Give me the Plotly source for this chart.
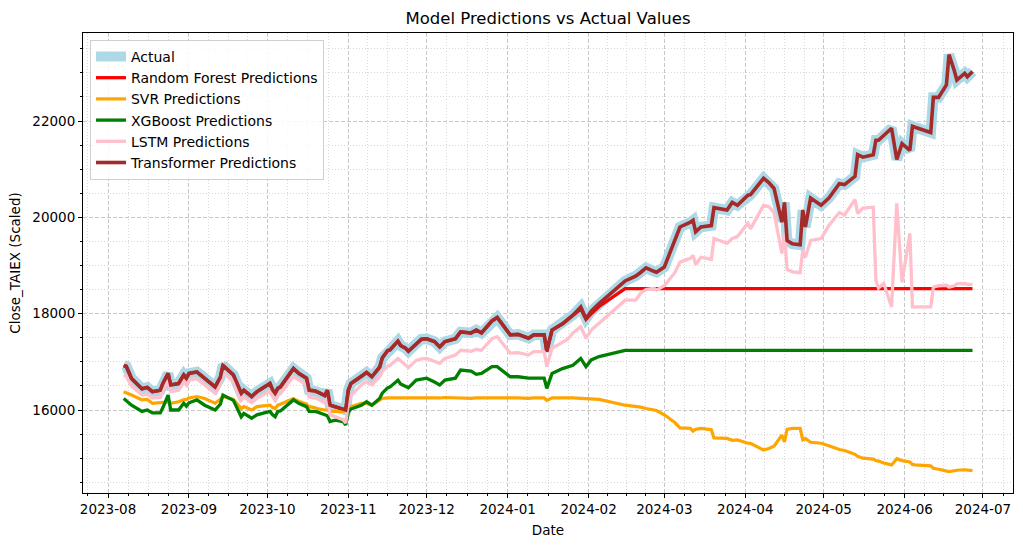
import plotly.graph_objects as go
import pandas as pd

# ---------------- data ----------------
dates = (
    ["2023-08-07", "2023-08-08", "2023-08-10", "2023-08-14", "2023-08-16", "2023-08-18", "2023-08-21",
     "2023-08-22", "2023-08-24", "2023-08-25", "2023-08-28", "2023-08-30", "2023-08-31"]
    + ["2023-09-01", "2023-09-04", "2023-09-07", "2023-09-11", "2023-09-13", "2023-09-14", "2023-09-18",
       "2023-09-20", "2023-09-21", "2023-09-22", "2023-09-25", "2023-09-27"]
    + ["2023-10-02", "2023-10-03", "2023-10-04", "2023-10-05", "2023-10-06", "2023-10-11", "2023-10-13",
       "2023-10-16", "2023-10-17", "2023-10-19", "2023-10-20", "2023-10-23", "2023-10-24", "2023-10-25",
       "2023-10-27", "2023-10-30", "2023-10-31"]
    + ["2023-11-01", "2023-11-02", "2023-11-06", "2023-11-08", "2023-11-10", "2023-11-13", "2023-11-14",
       "2023-11-16", "2023-11-17", "2023-11-20", "2023-11-21", "2023-11-23", "2023-11-24", "2023-11-27",
       "2023-11-29"]
    + ["2023-12-01", "2023-12-04", "2023-12-06", "2023-12-08", "2023-12-12", "2023-12-14", "2023-12-18",
       "2023-12-20", "2023-12-22", "2023-12-26", "2023-12-28"]
    + ["2024-01-02", "2024-01-05", "2024-01-09", "2024-01-11", "2024-01-15", "2024-01-16", "2024-01-18",
       "2024-01-22", "2024-01-24", "2024-01-26", "2024-01-29", "2024-01-31"]
    + ["2024-02-02", "2024-02-05", "2024-02-15", "2024-02-19", "2024-02-21", "2024-02-23", "2024-02-26",
       "2024-02-27"]
    + ["2024-03-01", "2024-03-05", "2024-03-07", "2024-03-11", "2024-03-12", "2024-03-13", "2024-03-15",
       "2024-03-19", "2024-03-20", "2024-03-25", "2024-03-27", "2024-03-29"]
    + ["2024-04-02", "2024-04-03", "2024-04-08", "2024-04-10", "2024-04-12", "2024-04-15", "2024-04-16",
       "2024-04-17", "2024-04-19", "2024-04-22", "2024-04-23", "2024-04-24", "2024-04-26", "2024-04-30"]
    + ["2024-05-03", "2024-05-07", "2024-05-09", "2024-05-13", "2024-05-14", "2024-05-16", "2024-05-20",
       "2024-05-21", "2024-05-22", "2024-05-24", "2024-05-27", "2024-05-29", "2024-05-31"]
    + ["2024-06-03", "2024-06-04", "2024-06-05", "2024-06-11", "2024-06-12", "2024-06-14", "2024-06-17",
       "2024-06-18", "2024-06-20", "2024-06-21", "2024-06-24", "2024-06-25", "2024-06-27"]
)

actual = (
    [16930, 16910, 16660, 16440, 16470, 16380, 16410, 16550, 16760, 16520, 16550, 16730, 16660]
    + [16760, 16790, 16660, 16480, 16680, 16930, 16730, 16500, 16350, 16410, 16280, 16380]
    + [16550, 16420, 16350, 16450, 16480, 16860, 16760, 16660, 16410, 16400, 16380, 16300, 16410, 16100,
       16070, 16030, 16000]
    + [16410, 16550, 16700, 16780, 16690, 16890, 17080, 17230, 17250, 17430, 17340, 17280, 17220, 17380, 17470]
    + [17480, 17420, 17310, 17420, 17480, 17620, 17600, 17660, 17600, 17850, 17920]
    + [17560, 17570, 17490, 17560, 17560, 17210, 17660, 17790, 17880, 17970, 18140, 17900]
    + [18050, 18210, 18680, 18780, 18860, 18950, 18880, 18860]
    + [18970, 19500, 19800, 19900, 19940, 19700, 19800, 19830, 20200, 20150, 20310, 20250]
    + [20460, 20470, 20810, 20720, 20600, 19920, 20310, 19520, 19450, 19430, 20150, 19800, 20400, 20250]
    + [20400, 20700, 20680, 20850, 21300, 21250, 21300, 21600, 21600, 21700, 21850, 21200, 21530]
    + [21390, 21890, 21870, 21760, 22490, 22490, 22750, 23380, 23050, 22850, 22990, 22920, 23030]
)

rf_pred = (
    [16930, 16910, 16660, 16440, 16470, 16380, 16410, 16550, 16760, 16520, 16550, 16730, 16660]
    + [16760, 16790, 16660, 16480, 16680, 16930, 16730, 16500, 16350, 16410, 16280, 16380]
    + [16550, 16420, 16350, 16450, 16480, 16860, 16760, 16660, 16410, 16400, 16380, 16300, 16410, 16100,
       16070, 16030, 16000]
    + [16410, 16550, 16700, 16780, 16690, 16890, 17080, 17230, 17250, 17430, 17340, 17280, 17220, 17380, 17470]
    + [17480, 17420, 17310, 17420, 17480, 17620, 17600, 17660, 17600, 17850, 17920]
    + [17560, 17570, 17490, 17560, 17560, 17210, 17660, 17790, 17880, 17960, 18100, 17880]
    + [18000, 18150, 18520, 18520, 18520, 18520, 18520, 18520]
    + [18520, 18520, 18520, 18520, 18520, 18520, 18520, 18520, 18520, 18520, 18520, 18520]
    + [18520, 18520, 18520, 18520, 18520, 18520, 18520, 18520, 18520, 18520, 18520, 18520, 18520, 18520]
    + [18520, 18520, 18520, 18520, 18520, 18520, 18520, 18520, 18520, 18520, 18520, 18520, 18520]
    + [18520, 18520, 18520, 18520, 18520, 18520, 18520, 18520, 18520, 18520, 18520, 18520, 18520]
)

svr_pred = (
    [16380, 16360, 16310, 16210, 16220, 16140, 16150, 16160, 16170, 16140, 16170, 16210, 16220]
    + [16250, 16280, 16240, 16140, 16220, 16280, 16220, 16100, 16030, 16070, 16000, 16070]
    + [16100, 16050, 16030, 16100, 16120, 16240, 16180, 16120, 16070, 16050, 16030, 16000, 16000, 15970,
       15970, 15970, 15990]
    + [16030, 16070, 16140, 16140, 16100, 16210, 16240, 16250, 16250, 16250, 16250, 16250, 16250, 16250, 16250]
    + [16250, 16240, 16250, 16260, 16250, 16250, 16240, 16250, 16250, 16260, 16250]
    + [16250, 16250, 16240, 16250, 16250, 16200, 16250, 16250, 16260, 16250, 16240, 16230]
    + [16230, 16220, 16100, 16080, 16060, 16030, 16000, 15990]
    + [15900, 15740, 15630, 15620, 15560, 15600, 15620, 15590, 15420, 15410, 15370, 15380]
    + [15310, 15310, 15170, 15200, 15250, 15480, 15340, 15600, 15620, 15620, 15380, 15410, 15330, 15310]
    + [15260, 15180, 15160, 15080, 15040, 15000, 14980, 14950, 14940, 14900, 14860, 14990, 14950]
    + [14920, 14870, 14860, 14840, 14790, 14770, 14740, 14720, 14740, 14750, 14760, 14750, 14740]
)

xgb_pred = (
    [16240, 16200, 16100, 15970, 16000, 15940, 15940, 16050, 16310, 16000, 16000, 16140, 16080]
    + [16150, 16210, 16100, 16000, 16120, 16310, 16200, 15980, 15860, 15930, 15830, 15900]
    + [15970, 15900, 15860, 15970, 15980, 16210, 16140, 16070, 15970, 15970, 15960, 15900, 15880, 15760,
       15790, 15760, 15690]
    + [15950, 16020, 16100, 16170, 16100, 16240, 16350, 16460, 16480, 16620, 16540, 16490, 16460, 16620, 16640]
    + [16660, 16580, 16520, 16620, 16660, 16830, 16810, 16740, 16760, 16900, 16900]
    + [16690, 16690, 16660, 16660, 16660, 16450, 16760, 16860, 16900, 16930, 17070, 16900]
    + [17040, 17110, 17240, 17240, 17240, 17240, 17240, 17240]
    + [17240, 17240, 17240, 17240, 17240, 17240, 17240, 17240, 17240, 17240, 17240, 17240]
    + [17240, 17240, 17240, 17240, 17240, 17240, 17240, 17240, 17240, 17240, 17240, 17240, 17240, 17240]
    + [17240, 17240, 17240, 17240, 17240, 17240, 17240, 17240, 17240, 17240, 17240, 17240, 17240]
    + [17240, 17240, 17240, 17240, 17240, 17240, 17240, 17240, 17240, 17240, 17240, 17240, 17240]
)

lstm_pred = (
    [16730, 16700, 16500, 16310, 16330, 16250, 16260, 16400, 16620, 16380, 16410, 16590, 16520]
    + [16620, 16650, 16520, 16350, 16540, 16780, 16590, 16350, 16200, 16270, 16150, 16240]
    + [16400, 16280, 16200, 16310, 16340, 16700, 16620, 16520, 16270, 16260, 16240, 16150, 16250, 15900,
       15860, 15800, 15730]
    + [16150, 16300, 16520, 16590, 16520, 16690, 16800, 16910, 16930, 17070, 17020, 16930, 16880, 17030, 17060]
    + [17070, 17020, 16970, 17070, 17140, 17240, 17220, 17260, 17240, 17480, 17520]
    + [17180, 17190, 17140, 17210, 17210, 16900, 17280, 17400, 17470, 17600, 17730, 17490]
    + [17660, 17800, 18280, 18280, 18430, 18500, 18530, 18490]
    + [18580, 18850, 19070, 19150, 19210, 19020, 19170, 19130, 19560, 19460, 19560, 19600]
    + [19880, 19760, 20250, 20220, 20100, 19250, 19670, 18920, 18870, 18850, 19320, 19170, 19520, 19560]
    + [19830, 20100, 20050, 20370, 20080, 20190, 20210, 18690, 18530, 18630, 18140, 20290, 18650]
    + [19670, 18140, 18140, 18140, 18550, 18580, 18590, 18550, 18580, 18620, 18630, 18610, 18610]
)

transformer_pred = (
    [16920, 16900, 16650, 16440, 16470, 16380, 16410, 16550, 16760, 16520, 16550, 16730, 16660]
    + [16760, 16790, 16660, 16480, 16680, 16920, 16730, 16500, 16350, 16410, 16280, 16380]
    + [16550, 16420, 16350, 16450, 16480, 16860, 16760, 16660, 16410, 16400, 16380, 16300, 16410, 16100,
       16070, 16030, 16000]
    + [16410, 16550, 16700, 16780, 16690, 16890, 17080, 17230, 17250, 17430, 17340, 17280, 17220, 17380, 17470]
    + [17480, 17420, 17310, 17420, 17480, 17620, 17600, 17660, 17600, 17850, 17920]
    + [17560, 17570, 17490, 17560, 17560, 17230, 17660, 17790, 17880, 17970, 18140, 17900]
    + [18050, 18210, 18680, 18780, 18860, 18950, 18880, 18860]
    + [18970, 19500, 19800, 19900, 19940, 19700, 19800, 19830, 20200, 20150, 20310, 20250]
    + [20460, 20470, 20810, 20720, 20600, 19900, 20310, 19520, 19450, 19430, 20150, 19800, 20400, 20250]
    + [20400, 20700, 20680, 20850, 21300, 21250, 21300, 21600, 21600, 21700, 21850, 21200, 21530]
    + [21390, 21890, 21870, 21760, 22490, 22490, 22750, 23380, 23050, 22850, 22990, 22920, 23030]
)

series_names = ["Actual", "Random Forest Predictions", "SVR Predictions", "XGBoost Predictions",
                "LSTM Predictions", "Transformer Predictions"]
y_tick_values = [16000, 18000, 20000, 22000]
x_tick_months = ["2023-08-01", "2023-09-01", "2023-10-01", "2023-11-01", "2023-12-01", "2024-01-01",
                 "2024-02-01", "2024-03-01", "2024-04-01", "2024-05-01", "2024-06-01", "2024-07-01"]

# ---------------- figure ----------------
series_values = [actual, rf_pred, svr_pred, xgb_pred, lstm_pred, transformer_pred]
colors = ["#ADD8E6", "#FF0000", "#FFA500", "#008000", "#FFC0CB", "#A52A2A"]
widths = [10.5, 3.3, 3.2, 3.3, 3.3, 3.6]

fig = go.Figure()
for name, vals, col, w in zip(series_names, series_values, colors, widths):
    fig.add_trace(go.Scatter(x=dates, y=vals, mode="lines", name=name,
                             line=dict(color=col, width=w)))

# minor x grid: each month split into quarters (matplotlib AutoMinorLocator(4))
minor_x = []
for m in pd.date_range("2023-07-01", "2024-07-01", freq="MS"):
    nd = m.days_in_month
    for k in (1, 2, 3):
        minor_x.append((m + pd.Timedelta(days=nd * k / 4)).strftime("%Y-%m-%d %H:%M"))

FONT = "DejaVu Sans"
grid_major = "#c8c8c8"
grid_minor = "#d8d8d8"

fig.update_layout(
    width=1023, height=547,
    margin=dict(l=83, r=10, t=33, b=54),
    paper_bgcolor="white", plot_bgcolor="white",
    font=dict(family=FONT, size=13.5, color="black"),
    title=dict(text="Model Predictions vs Actual Values", x=0.5357, xanchor="center",
               y=1 - 18 / 547, yanchor="middle", font=dict(size=16.5, family=FONT)),
    showlegend=True,
    legend=dict(x=0.0075, y=0.985, xanchor="left", yanchor="top",
                bgcolor="rgba(255,255,255,0.85)", bordercolor="#d0d0d0", borderwidth=1,
                font=dict(size=14, family=FONT), tracegroupgap=0, itemwidth=30),
)

fig.update_xaxes(
    type="date", range=["2023-07-22 10:00", "2024-07-12 12:00"],
    tickvals=x_tick_months, tickformat="%Y-%m",
    ticks="outside", ticklen=4, tickwidth=1, tickcolor="black",
    showline=True, linecolor="black", linewidth=1, mirror=True,
    showgrid=True, gridcolor=grid_major, gridwidth=0.8, griddash="4px,2px",
    zeroline=False,
    tickfont=dict(size=13.5, family=FONT),
    title=dict(text="Date", font=dict(size=13.5, family=FONT), standoff=9),
    minor=dict(tickmode="array", tickvals=minor_x, ticks="outside", ticklen=2, tickcolor="black",
               showgrid=True, gridcolor=grid_minor, gridwidth=0.6, griddash="1px,2px"),
)

fig.update_yaxes(
    range=[14277, 23827],
    tickvals=y_tick_values, tickformat="d",
    ticks="outside", ticklen=4, tickwidth=1, tickcolor="black",
    showline=True, linecolor="black", linewidth=1, mirror=True,
    showgrid=True, gridcolor=grid_major, gridwidth=0.8, griddash="4px,2px",
    zeroline=False,
    tickfont=dict(size=13.5, family=FONT),
    title=dict(text="Close_TAIEX (Scaled)", font=dict(size=13.5, family=FONT), standoff=8),
    minor=dict(dtick=500, tick0=0, ticks="outside", ticklen=2, tickcolor="black",
               showgrid=True, gridcolor=grid_minor, gridwidth=0.6, griddash="1px,2px"),
)

fig.write_html("out.html", config={"displayModeBar": False},
               post_script="document.body.style.margin='0';")
